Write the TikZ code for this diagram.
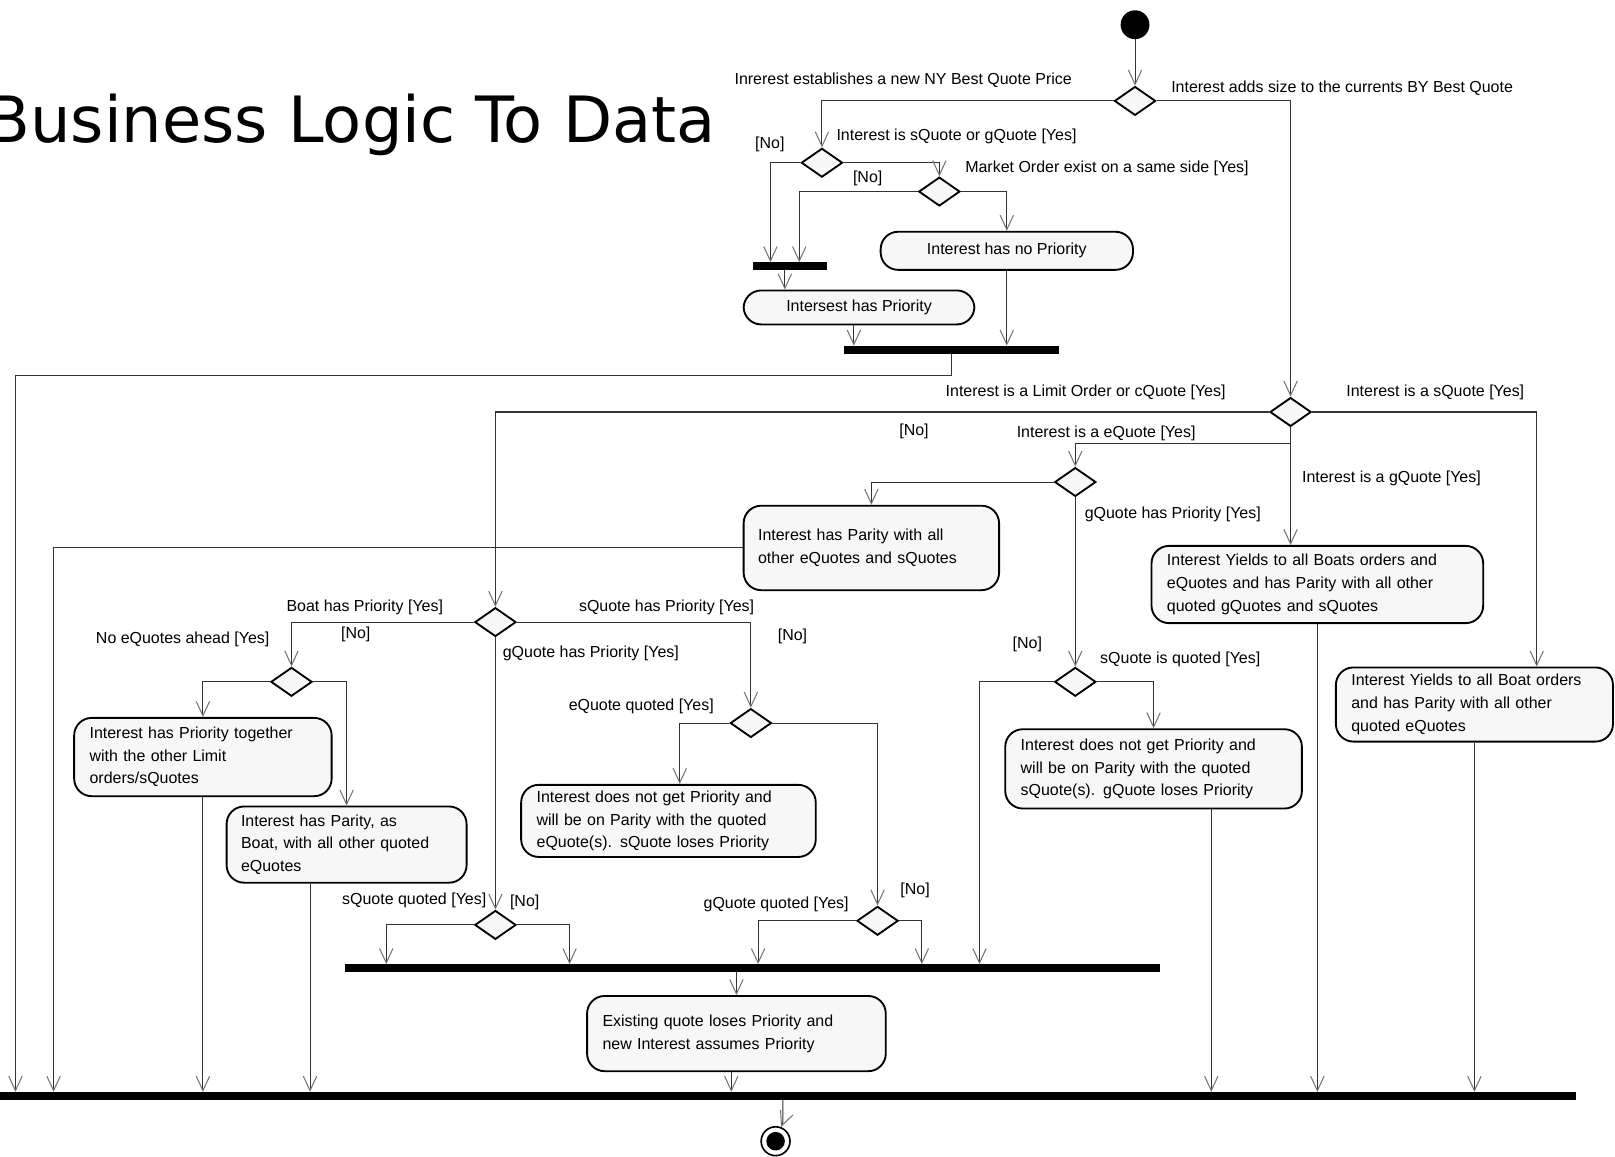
\documentclass[tikz,border=0pt]{standalone}
\usepackage{fontspec}
\setmainfont{Liberation Sans}
\newfontfamily\titlefont{DejaVu Sans}
\usetikzlibrary{arrows.meta,shapes.geometric}

\begin{document}
\begin{tikzpicture}[x=1pt,y=-1pt,
  font=\fontsize{15.5}{22}\selectfont,
  flow/.style={draw=black!80, line width=1pt},
  arr/.style={flow, -{Straight Barb[length=14pt,width=13pt,line width=1pt,color=black!55]}},
  act/.style={draw, line width=1.8pt, fill=black!3, rounded corners=17pt, inner sep=0pt},
  actl/.style={act, align=left},
  choice/.style={diamond, draw, line width=1.8pt, fill=black!3, minimum width=40pt, minimum height=28pt, inner sep=0pt},
  bar/.style={fill=black, inner sep=0pt, minimum height=7.5pt},
  lbl/.style={anchor=west, inner sep=0pt}]

% page
\fill[white] (0,0) rectangle (1568,1123);
\useasboundingbox (0,0) rectangle (1568,1123);

% title
\node[anchor=base east, inner sep=0pt, font=\titlefont\fontsize{62}{62}\selectfont] (title) at (695,138) {Business Logic To Data};

% initial and final states
\node[circle, fill=black, minimum size=28pt, inner sep=0pt] (start) at (1102,24) {};
\node[circle, draw, line width=1.6pt, minimum size=28pt, inner sep=0pt,
      path picture={\fill (path picture bounding box.center) circle (9pt);}] (end) at (753,1108) {};

% decisions
\node[choice] (D1) at (1102,98) {};
\node[choice] (D2) at (798,158) {};
\node[choice] (D3) at (912,186) {};
\node[choice] (D4) at (1253,400) {};
\node[choice] (D5) at (1044,468) {};
\node[choice] (D6) at (1044,662) {};
\node[choice] (D7) at (481,604) {};
\node[choice] (D8) at (283,662) {};
\node[choice] (D9) at (729,702) {};
\node[choice] (D10) at (481,898) {};
\node[choice] (D11) at (852,894) {};

% synchronisation bars
\node[bar, minimum width=72pt] (bar1) at (767,258.5) {};
\node[bar, minimum width=209pt] (bar2) at (923.5,339.5) {};
\node[bar, minimum width=791pt] (bar3) at (730.5,940) {};
\node[bar, minimum width=1530pt] (fbar) at (765,1064) {};

% activities
\node[act, minimum width=245pt, minimum height=37pt] (A) at (977.5,243.5) {Interest has no Priority};
\node[act, minimum width=224pt, minimum height=33pt] (B) at (834,298.5) {Intersest has Priority};
\node[actl, minimum width=248pt, minimum height=82pt, text width=220pt] (C) at (846,532)
  {Interest has Parity with all\\other eQuotes and sQuotes};
\node[actl, minimum width=322pt, minimum height=75pt, text width=292pt] (D) at (1279,567.5)
  {Interest Yields to all Boats orders and\\eQuotes and has Parity with all other\\quoted gQuotes and sQuotes};
\node[actl, minimum width=269pt, minimum height=72pt, text width=239pt] (E) at (1431.5,684)
  {Interest Yields to all Boat orders\\and has Parity with all other\\quoted eQuotes};
\node[actl, minimum width=250pt, minimum height=76pt, text width=220pt] (F) at (197,735)
  {Interest has Priority together\\with the other Limit\\orders/sQuotes};
\node[actl, minimum width=233pt, minimum height=74pt, text width=205pt] (G) at (336.5,820)
  {Interest has Parity, as\\Boat, with all other quoted\\eQuotes};
\node[actl, minimum width=286pt, minimum height=70pt, text width=256pt] (H) at (649,797)
  {Interest does not get Priority and\\will be on Parity with the quoted\\eQuote(s). sQuote loses Priority};
\node[actl, minimum width=288pt, minimum height=77pt, text width=258pt] (I) at (1120,746.5)
  {Interest does not get Priority and\\will be on Parity with the quoted\\sQuote(s). gQuote loses Priority};
\node[actl, minimum width=290pt, minimum height=73pt, text width=260pt] (J) at (715,1003.5)
  {Existing quote loses Priority and\\new Interest assumes Priority};

% guard labels
\node[lbl] (l1) at (713,78) {Inrerest establishes a new NY Best Quote Price};
\node[lbl] (l2) at (1137,86) {Interest adds size to the currents BY Best Quote};
\node[lbl] (l3) at (733,140) {[No]};
\node[lbl] (l4) at (812,132) {Interest is sQuote or gQuote [Yes]};
\node[lbl] (l5) at (828,173) {[No]};
\node[lbl] (l6) at (937,163) {Market Order exist on a same side [Yes]};
\node[lbl] (l7) at (918,381) {Interest is a Limit Order or cQuote [Yes]};
\node[lbl] (l8) at (1307,381) {Interest is a sQuote [Yes]};
\node[lbl] (l9) at (873,419) {[No]};
\node[lbl] (l10) at (987,421) {Interest is a eQuote [Yes]};
\node[lbl] (l11) at (1264,464) {Interest is a gQuote [Yes]};
\node[lbl] (l12) at (1053,499) {gQuote has Priority [Yes]};
\node[lbl] (l13) at (983,626) {[No]};
\node[lbl] (l14) at (1068,640) {sQuote is quoted [Yes]};
\node[lbl] (l15) at (278,590) {Boat has Priority [Yes]};
\node[lbl] (l16) at (562,590) {sQuote has Priority [Yes]};
\node[lbl] (l17) at (331,616) {[No]};
\node[lbl] (l18) at (488,634) {gQuote has Priority [Yes]};
\node[lbl] (l19) at (755,618) {[No]};
\node[lbl] (l20) at (93,621) {No eQuotes ahead [Yes]};
\node[lbl] (l21) at (552,686) {eQuote quoted [Yes]};
\node[lbl] (l22) at (332,874) {sQuote quoted [Yes]};
\node[lbl] (l23) at (495,876) {[No]};
\node[lbl] (l24) at (683,878) {gQuote quoted [Yes]};
\node[lbl] (l25) at (874,864) {[No]};

% flows: upper part
\draw[arr] (start) -- (D1);
\draw[arr] (D1.west) -| (D2.north);
\draw[arr] (D1.east) -| (D4.north);
\draw[arr] (D2.west) -| (748,0 |- bar1.north);
\draw[arr] (D2.east) -| (D3.north);
\draw[arr] (D3.west) -| (776,0 |- bar1.north);
\draw[arr] (D3.east) -| (A.north);
\draw[arr] (bar1.south -| 762,0) -- (B.north -| 762,0);
\draw[arr] (B.south -| 829,0) -- (bar2.north -| 829,0);
\draw[arr] (A.south) -- (A.south |- bar2.north);
\draw[arr] (bar2.south -| 924,0) |- (15,365) -- (15,0 |- fbar.north);

% flows: quote type
\draw[arr] (D4.west) -| (D7.north);
\draw[arr] (D4.east) -| (E.north -| 1492,0);
\draw[arr] (D4.south) -- (D.north -| D4.south);
\draw[arr] (D4.south |- 0,431) -| (D5.north);
\draw[arr] (D5.west) -| (C.north);
\draw[arr] (D5.south) -- (D6.north);
\draw[arr] (C.west) -| (52,0 |- fbar.north);
\draw[arr] (D.south) -- (D.south |- fbar.north);
\draw[arr] (E.south) -- (E.south |- fbar.north);
\draw[arr] (D6.west) -| (951,0 |- bar3.north);
\draw[arr] (D6.east) -| (I.north);
\draw[arr] (I.south -| 1176,0) -- (1176,0 |- fbar.north);

% flows: limit order branch
\draw[arr] (D7.west) -| (D8.north);
\draw[arr] (D7.east) -| (D9.north);
\draw[arr] (D7.south) -- (D10.north);
\draw[arr] (D8.west) -| (F.north);
\draw[arr] (D8.east) -| (G.north);
\draw[arr] (F.south) -- (F.south |- fbar.north);
\draw[arr] (G.south -| 301,0) -- (301,0 |- fbar.north);
\draw[arr] (D9.west) -| (H.north -| 660,0);
\draw[arr] (D9.east) -| (D11.north);
\draw[arr] (D10.west) -| (375,0 |- bar3.north);
\draw[arr] (D10.east) -| (553,0 |- bar3.north);
\draw[arr] (D11.west) -| (736,0 |- bar3.north);
\draw[arr] (D11.east) -| (895,0 |- bar3.north);
\draw[arr] (bar3.south -| J.north) -- (J.north);
\draw[arr] (J.south -| 710,0) -- (710,0 |- fbar.north);
\draw[arr] (fbar.south -| 760,0) -- (760,1090) -- (end);

\end{tikzpicture}
\end{document}
